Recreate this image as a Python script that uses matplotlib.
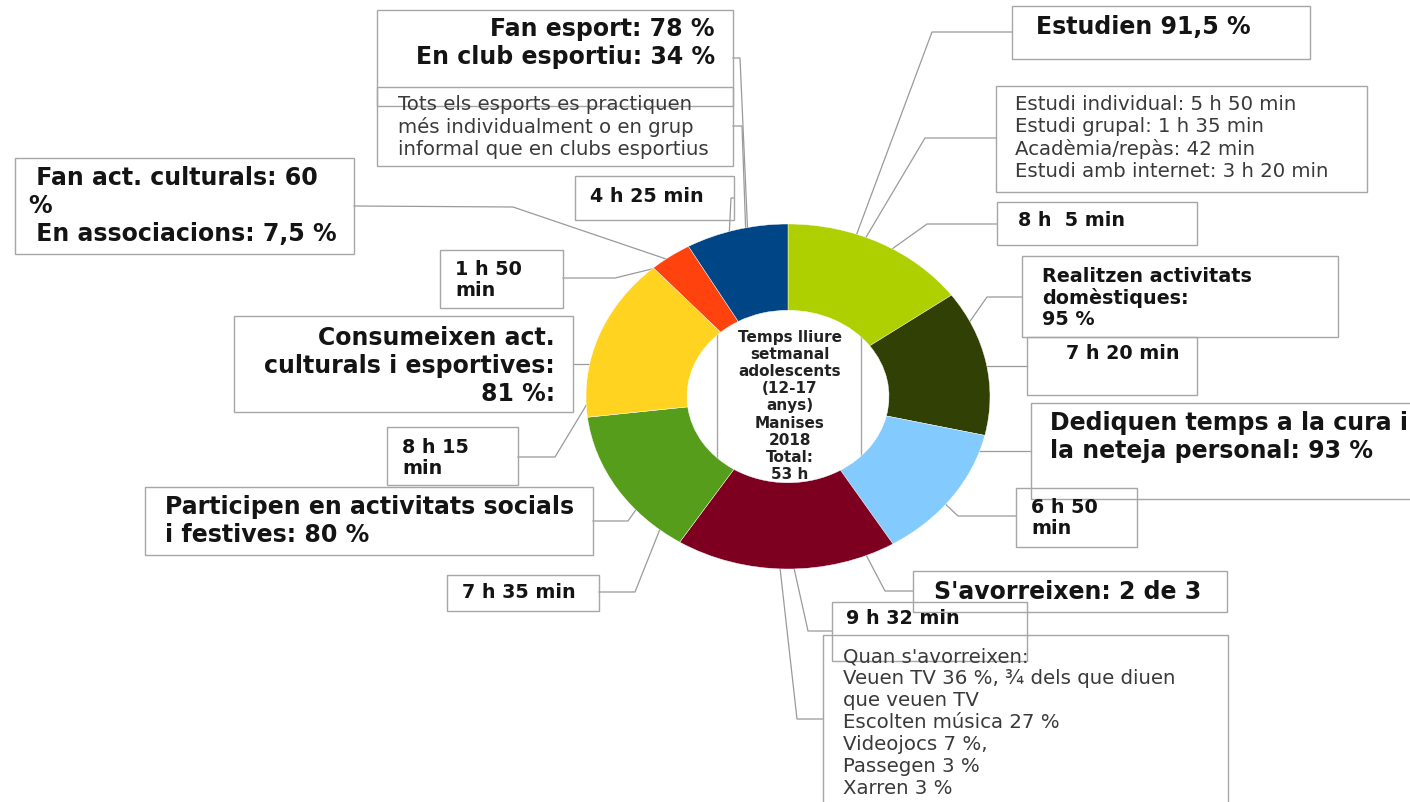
import matplotlib
matplotlib.use('Agg')
from matplotlib import pyplot as plt
from matplotlib.patches import Rectangle

# Minuts setmanals per activitat (ordre horari des de dalt)
minuts = [485, 440, 410, 572, 455, 495, 110, 265]
etiquetes_temps = ['8 h  5 min', '7 h 20 min', '6 h 50\nmin', '9 h 32 min',
                   '7 h 35 min', '8 h 15\nmin', '1 h 50\nmin', '4 h 25 min']
colors = ['#AECF00', '#314004', '#83CAFF', '#7E0021',
          '#579D1C', '#FFD320', '#FF420E', '#004586']

titol_centre = 'Temps lliure\nsetmanal\nadolescents\n(12-17\nanys)\nManises\n2018\nTotal:\n53 h'

W, H = 1410, 803
fig = plt.figure(figsize=(W / 100, H / 100), dpi=100)
fig.patch.set_facecolor('white')

# eix de fons en píxels per a caixes i línies
ax = fig.add_axes([0, 0, 1, 1])
ax.set_xlim(0, W)
ax.set_ylim(H, 0)
ax.axis('off')

BORDE = '#a6a6a6'
LINIA = '#9a9a9a'
NEGRE = '#141414'
GRIS = '#3a3a3a'

estils = {
    'gran': dict(fontsize=17, fontweight='bold', color=NEGRE, linespacing=1.2),
    'petit': dict(fontsize=13.8, fontweight='bold', color=NEGRE, linespacing=1.15),
    'normal': dict(fontsize=14.2, color=GRIS, linespacing=1.2),
}


def caixa(x0, y0, x1, y1, text, tx, ty, estil, ha='left'):
    ax.add_patch(Rectangle((x0, y0), x1 - x0, y1 - y0, fill=False,
                           edgecolor=BORDE, linewidth=1.0, zorder=2))
    ax.text(tx, ty, text, ha=ha, va='center', multialignment=ha, zorder=3, **estils[estil])


def linia(punts):
    xs, ys = zip(*punts)
    ax.plot(xs, ys, color=LINIA, linewidth=0.9, zorder=1)


# línies guia cap a l'anell
linia([(733, 59), (740, 59), (748, 240)])
linia([(733, 127), (742, 127), (746, 240)])
linia([(734, 199), (731, 199), (729, 240)])
linia([(354, 207), (513, 208), (672, 262)])
linia([(563, 279), (615, 279), (660, 268)])
linia([(573, 365), (600, 365)])
linia([(518, 458), (555, 458), (590, 400)])
linia([(593, 522), (628, 522), (640, 505)])
linia([(599, 593), (635, 593), (662, 525)])
linia([(832, 632), (808, 632), (792, 560)])
linia([(823, 720), (797, 720), (779, 560)])
linia([(913, 592), (885, 592), (864, 552)])
linia([(1016, 517), (958, 517), (940, 500)])
linia([(1031, 452), (970, 452)])
linia([(1027, 367), (980, 367)])
linia([(1022, 298), (987, 298), (966, 328)])
linia([(997, 225), (927, 225), (885, 255)])
linia([(996, 139), (925, 139), (862, 245)])
linia([(1012, 33), (932, 33), (853, 245)])

# rectangle del títol central (queda mig tapat per l'anell)
ax.add_patch(Rectangle((717, 300), 144, 195, fill=False, edgecolor=BORDE,
                       linewidth=1.0, zorder=1))
ax.text(790, 406, titol_centre, ha='center', va='center', fontsize=11,
        fontweight='bold', color='#222222', linespacing=1.17, zorder=3)

# caixes de text
caixa(377, 11, 733, 107, 'Fan esport: 78 %\nEn club esportiu: 34 %', 715, 43, 'gran', ha='right')
caixa(377, 88, 733, 167, 'Tots els esports es practiquen\nmés individualment o en grup\n'
      'informal que en clubs esportius', 398, 127, 'normal')
caixa(1012, 7, 1310, 60, 'Estudien 91,5 %', 1036, 27, 'gran')
caixa(996, 87, 1367, 193, 'Estudi individual: 5 h 50 min\nEstudi grupal: 1 h 35 min\n'
      'Acadèmia/repàs: 42 min\nEstudi amb internet: 3 h 20 min', 1015, 138, 'normal')
caixa(997, 203, 1197, 246, etiquetes_temps[0], 1018, 221, 'petit')
caixa(1022, 257, 1338, 338, 'Realitzen activitats\ndomèstiques:\n95 %', 1042, 298, 'petit')
caixa(1027, 338, 1197, 396, etiquetes_temps[1], 1066, 354, 'petit')
caixa(1031, 404, 1425, 500, 'Dediquen temps a la cura i\nla neteja personal: 93 %', 1050, 437, 'gran')
caixa(1016, 489, 1137, 548, etiquetes_temps[2], 1031, 518, 'petit')
caixa(913, 572, 1227, 613, "S'avorreixen: 2 de 3", 1068, 592, 'gran', ha='center')
caixa(832, 603, 1027, 662, etiquetes_temps[3], 846, 619, 'petit')
caixa(823, 636, 1228, 815, "Quan s'avorreixen:\nVeuen TV 36 %, ¾ dels que diuen\nque veuen TV\n"
      "Escolten música 27 %\nVideojocs 7 %,\nPassegen 3 %\nXarren 3 %", 843, 723, 'normal')
caixa(15, 159, 354, 255, ' Fan act. culturals: 60\n%\n En associacions: 7,5 %', 28, 206, 'gran')
caixa(440, 251, 563, 309, etiquetes_temps[6], 455, 280, 'petit')
caixa(234, 317, 573, 413, 'Consumeixen act.\nculturals i esportives:\n81 %:', 555, 366, 'gran', ha='right')
caixa(387, 428, 518, 486, etiquetes_temps[5], 402, 458, 'petit')
caixa(145, 488, 593, 556, 'Participen en activitats socials\ni festives: 80 %', 165, 521, 'gran')
caixa(447, 576, 599, 612, etiquetes_temps[4], 462, 593, 'petit')
caixa(575, 177, 734, 221, etiquetes_temps[7], 590, 196, 'petit')

# anell (el·líptic, més ample que alt)
cx0, cy0, cx1, cy1 = 586, 225, 990, 570
pax = fig.add_axes([cx0 / W, 1 - cy1 / H, (cx1 - cx0) / W, (cy1 - cy0) / H])
pax.pie(minuts, colors=colors, startangle=90, counterclock=False, radius=1,
        wedgeprops=dict(width=0.5, edgecolor='white', linewidth=0.3))
pax.set_aspect('auto')
pax.set_xlim(-1, 1)
pax.set_ylim(-1, 1)
pax.axis('off')
pax.patch.set_visible(False)

plt.savefig('out.png', dpi=100, facecolor='white')
